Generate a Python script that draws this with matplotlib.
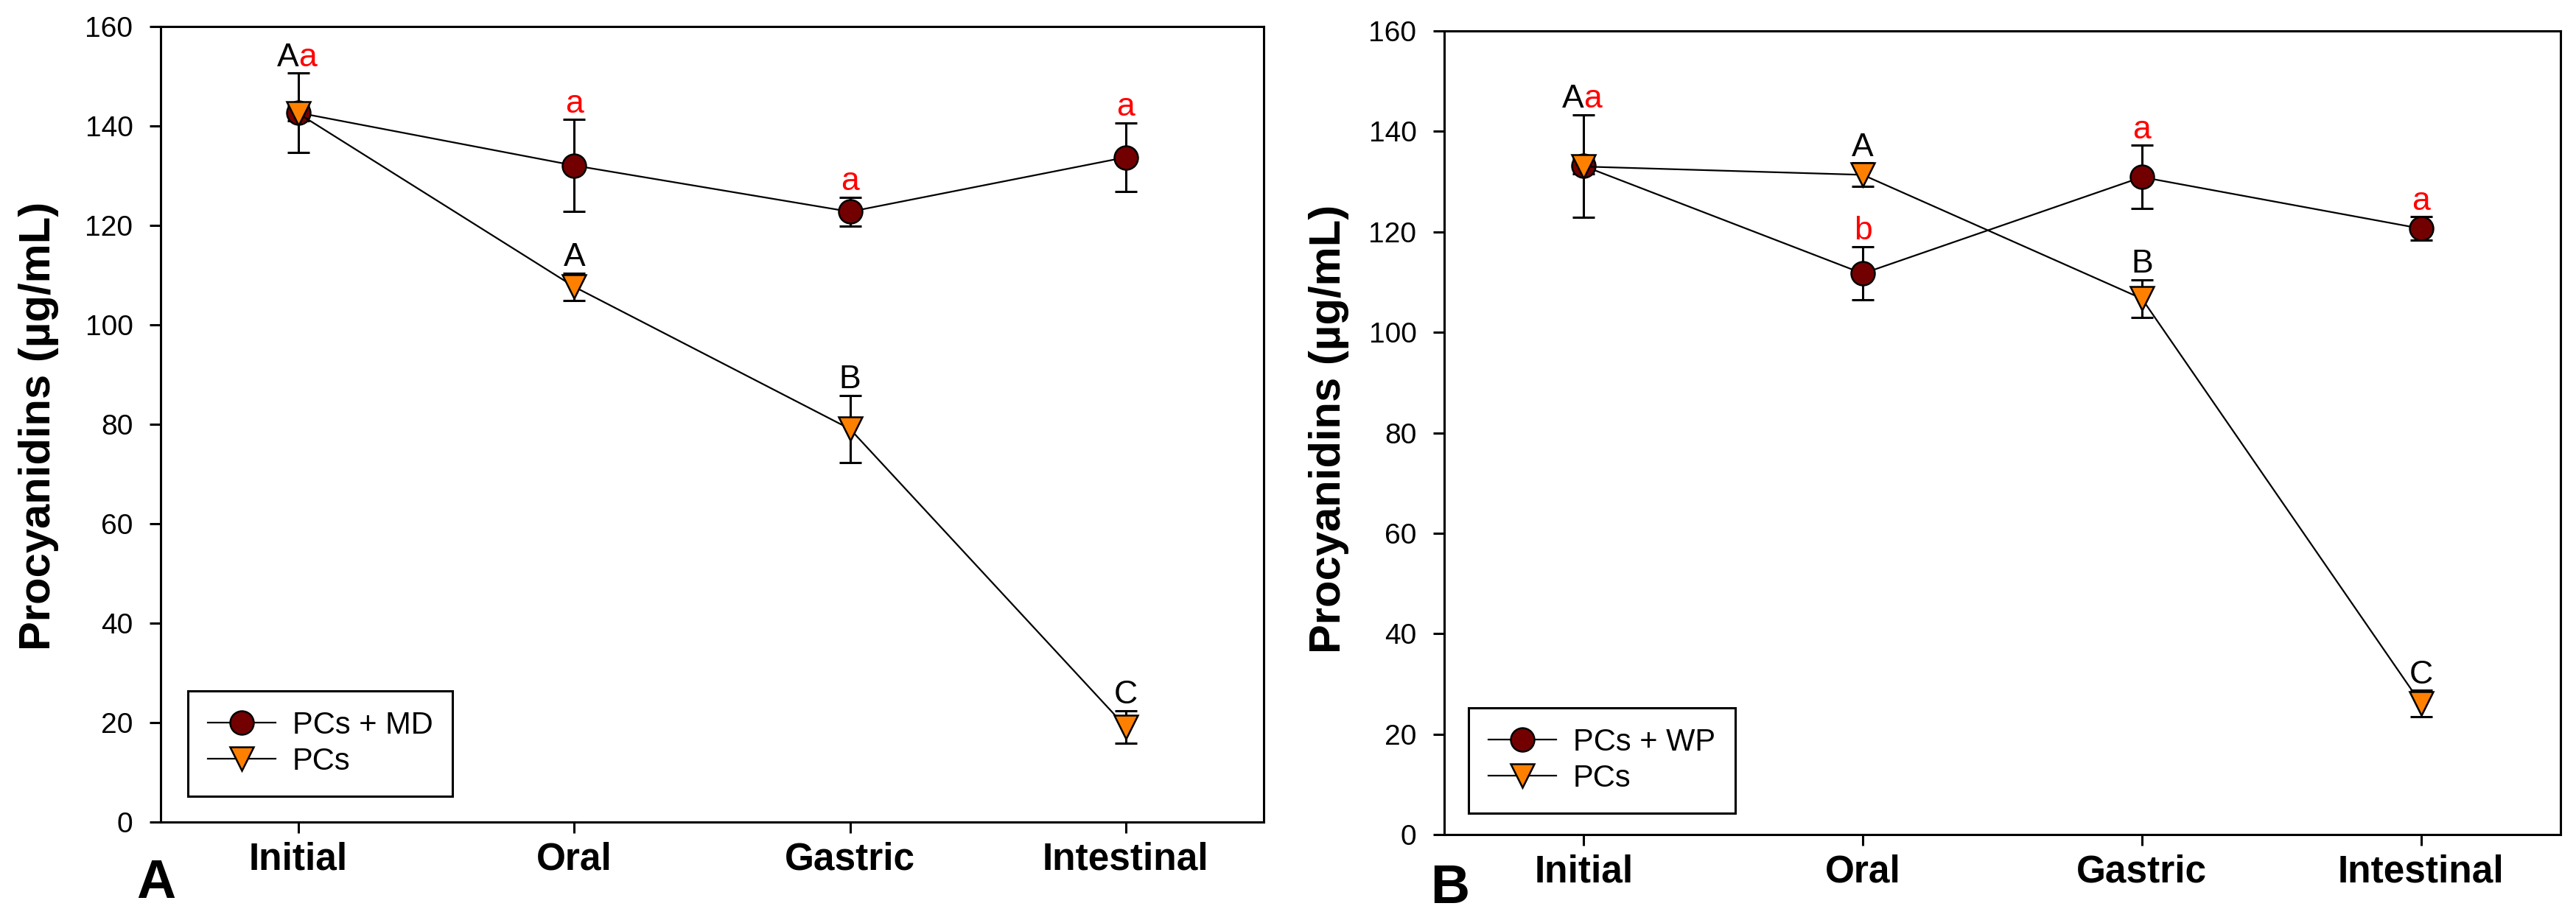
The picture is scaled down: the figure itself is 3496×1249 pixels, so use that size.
import matplotlib
matplotlib.use("Agg")
import matplotlib.pyplot as plt
from matplotlib.lines import Line2D

plt.rcParams['font.family'] = ['Liberation Sans', 'DejaVu Sans']

# ---------------- data ----------------
stages = ["Initial", "Oral", "Gastric", "Intestinal"]
y_ticks = [0, 20, 40, 60, 80, 100, 120, 140, 160]

# Panel A
md_mean = [142.65, 132.05, 122.75, 133.7]
md_err = [7.95, 9.25, 2.85, 6.9]
pcsA_mean = [142.5, 107.65, 79.05, 19.15]
pcsA_err = [1.5, 2.75, 6.75, 3.25]
md_letters = ["a", "a", "a", "a"]
pcsA_letters = ["A", "A", "B", "C"]

# Panel B
wp_mean = [133.1, 111.7, 130.9, 120.65]
wp_err = [10.2, 5.3, 6.3, 2.35]
pcsB_mean = [133.0, 131.35, 106.7, 26.1]
pcsB_err = [1.5, 2.35, 3.7, 2.6]
wp_letters = ["a", "b", "a", "a"]
pcsB_letters = ["A", "A", "B", "C"]

ylabel = "Procyanidins (µg/mL)"

# ---------------- style ----------------
W, H = 3496, 1249
DPI = 100
CIRCLE_FC = "#730000"
TRI_FC = "#ff8000"
RED = "#ff0000"

fig = plt.figure(figsize=(W / DPI, H / DPI), dpi=DPI)


def px_axes(l, t, r, b):
    return fig.add_axes([l / W, 1 - b / H, (r - l) / W, (b - t) / H])


def draw_panel(ax, s1_mean, s1_err, s1_label, s1_letters,
               s2_mean, s2_err, s2_letters, legend_anchor):
    x = list(range(len(stages)))
    ekw = dict(fmt="none", ecolor="black", elinewidth=2.2, capsize=11,
               capthick=2.2, zorder=2)
    ax.errorbar(x, s1_mean, yerr=s1_err, **ekw)
    ax.errorbar(x, s2_mean, yerr=s2_err, **ekw)
    ax.plot(x, s1_mean, color="black", lw=1.6, marker="o", ms=23,
            mfc=CIRCLE_FC, mec="black", mew=1.8, zorder=3)
    ax.plot(x, s2_mean, color="black", lw=1.6, marker="v", ms=23,
            mfc=TRI_FC, mec="black", mew=1.8, zorder=4)

    ax.set_xlim(-0.5, 3.5)
    ax.set_ylim(0, 160)
    ax.set_yticks(y_ticks)
    ax.set_xticks(x)
    ax.set_xticklabels(stages, fontsize=37, fontweight="bold")
    ax.tick_params(axis="y", labelsize=28, length=11, width=2.2,
                   direction="out", pad=16)
    ax.tick_params(axis="x", length=11, width=2.2, direction="out", pad=8)
    for sp in ax.spines.values():
        sp.set_linewidth(2.2)

    # significance letters
    fs = 32
    for i in x:
        top1 = s1_mean[i] + s1_err[i]
        top2 = s2_mean[i] + s2_err[i]
        if i == 0:
            top = max(top1, top2)
            ax.annotate(s2_letters[i], (i, top), xytext=(0, 7),
                        textcoords="offset points", ha="right",
                        va="baseline", fontsize=fs, color="black")
            ax.annotate(s1_letters[i], (i, top), xytext=(0, 7),
                        textcoords="offset points", ha="left",
                        va="baseline", fontsize=fs, color=RED)
        else:
            ax.annotate(s1_letters[i], (i, top1), xytext=(0, 7),
                        textcoords="offset points", ha="center",
                        va="baseline", fontsize=fs, color=RED)
            ax.annotate(s2_letters[i], (i, top2), xytext=(0, 7),
                        textcoords="offset points", ha="center",
                        va="baseline", fontsize=fs, color="black")

    handles = [
        Line2D([], [], color="black", lw=1.6, marker="o", ms=23,
               mfc=CIRCLE_FC, mec="black", mew=1.8),
        Line2D([], [], color="black", lw=1.6, marker="v", ms=23,
               mfc=TRI_FC, mec="black", mew=1.8),
    ]
    leg = ax.legend(handles, [s1_label, "PCs"], loc="lower left",
                    bbox_to_anchor=legend_anchor, borderaxespad=0,
                    fontsize=30, frameon=True, fancybox=False,
                    framealpha=1, edgecolor="black", handlelength=2.2,
                    handletextpad=0.55, borderpad=0.65, labelspacing=0.22)
    leg.get_frame().set_linewidth(2.2)


axA = px_axes(218, 36, 1715, 1116)
draw_panel(axA, md_mean, md_err, "PCs + MD", md_letters,
           pcsA_mean, pcsA_err, pcsA_letters, (0.0247, 0.0324))

axB = px_axes(1960, 42, 3475, 1133)
draw_panel(axB, wp_mean, wp_err, "PCs + WP", wp_letters,
           pcsB_mean, pcsB_err, pcsB_letters, (0.0218, 0.0266))

# y labels
fig.text(53 / W, 1 - 578 / H, ylabel, rotation=90, ha="center",
         va="center", fontsize=43, fontweight="bold")
fig.text(1803 / W, 1 - 582 / H, ylabel, rotation=90, ha="center",
         va="center", fontsize=43, fontweight="bold")

# panel letters
fig.text(212 / W, 1 - 1219 / H, "A", ha="center", va="baseline",
         fontsize=53, fontweight="bold")
fig.text(1968 / W, 1 - 1226 / H, "B", ha="center", va="baseline",
         fontsize=53, fontweight="bold")

fig.savefig("out.png", dpi=DPI, facecolor="white")
